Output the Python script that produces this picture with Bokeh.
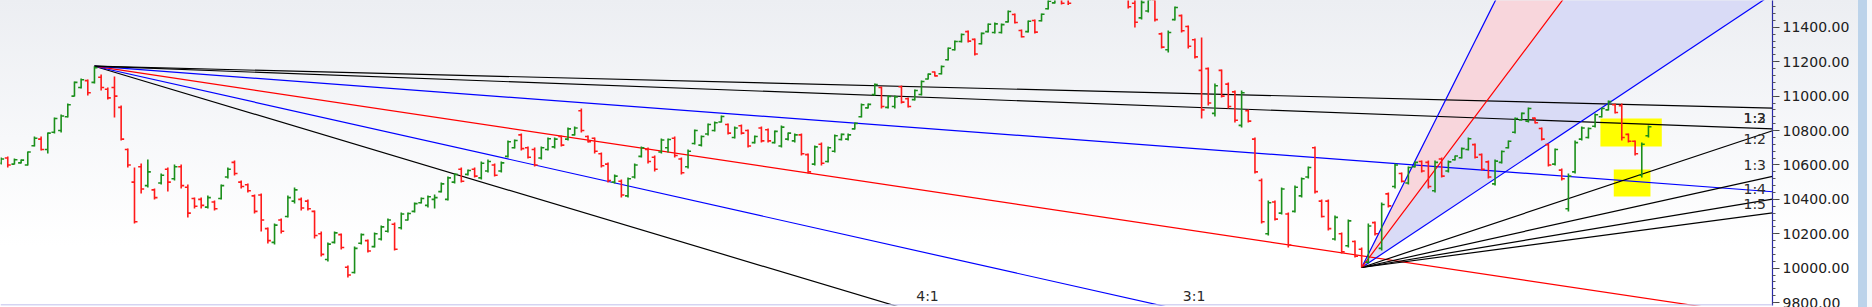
from bokeh.plotting import figure
from bokeh.models import (Range1d, LinearAxis, SingleIntervalTicker, NumeralTickFormatter,
                          Label, Span, ColumnDataSource)
from bokeh.embed import file_html
from bokeh.resources import INLINE

# ---- daily OHLC prices (bar index = trading day) ----
high = [10643, 10649, 10637, 10632, 10678, 10765, 10765, 10789, 10876, 10893, 10957, 11085, 11103, 11097, 11174,
        11126, 11050, 11114, 10946, 10696, 10585, 10608, 10632, 10463, 10550, 10585, 10603, 10603, 10486, 10411,
        10411, 10422, 10393, 10486, 10585, 10626, 10510, 10492, 10428, 10434, 10236, 10260, 10289, 10422, 10469,
        10411, 10399, 10335, 10213, 10149, 10213, 10201, 10015, 10126, 10201, 10166, 10207, 10248, 10289, 10265,
        10323, 10323, 10382, 10411, 10422, 10428, 10498, 10533, 10550, 10585, 10573, 10585, 10620, 10632, 10608,
        10620, 10742, 10748, 10783, 10707, 10701, 10707, 10760, 10760, 10771, 10818, 10823, 10928, 10771, 10760,
        10672, 10614, 10544, 10515, 10527, 10608, 10707, 10701, 10655, 10754, 10754, 10765, 10643, 10690, 10806,
        10771, 10841, 10853, 10887, 10841, 10823, 10835, 10806, 10771, 10823, 10812, 10800, 10829, 10789, 10783,
        10783, 10666, 10713, 10730, 10707, 10777, 10783, 10783, 10847, 10957, 10957, 11073, 11056, 11004, 11004,
        11062, 10992, 11039, 11091, 11132, 11143, 11178, 11283, 11324, 11364, 11382, 11335, 11370, 11422, 11428,
        11422, 11498, 11480, 11387, 11440, 11446, 11480, 11560, 11580, 11585, 11590, 11620, 11660, 11670, 11690,
        11720, 11710, 11670, 11630, 11590, 11565, 11570, 11575, 11580, 11370, 11382, 11521, 11475, 11411, 11335,
        11341, 11166, 11073, 11155, 11079, 11033, 11033, 10922, 10760, 10521, 10393, 10393, 10469, 10323, 10481,
        10527, 10591, 10707, 10399, 10399, 10306, 10207, 10283, 10161, 10120, 10260, 10271, 10382, 10440, 10608,
        10556, 10591, 10620, 10626, 10626, 10626, 10643, 10626, 10655, 10701, 10760, 10725, 10666, 10626, 10632,
        10684, 10742, 10876, 10905, 10934, 10876, 10818, 10725, 10696, 10579, 10550, 10742, 10823, 10818, 10899,
        10934, 10975, 10957, 10957, 10783, 10742, 10730, 10829]
low = [10603, 10585, 10603, 10608, 10597, 10707, 10684, 10666, 10783, 10789, 10876, 10998, 11044, 11004, 11073,
       11033, 10980, 10876, 10742, 10585, 10260, 10434, 10469, 10399, 10486, 10446, 10510, 10463, 10294, 10347,
       10347, 10347, 10335, 10399, 10521, 10539, 10463, 10440, 10318, 10213, 10143, 10137, 10201, 10294, 10376,
       10335, 10335, 10172, 10068, 10039, 10143, 10108, 9946, 9969, 10137, 10091, 10120, 10161, 10207, 10103,
       10225, 10277, 10323, 10376, 10353, 10347, 10440, 10393, 10492, 10498, 10539, 10527, 10515, 10556, 10533,
       10556, 10643, 10696, 10684, 10637, 10591, 10632, 10684, 10696, 10707, 10742, 10771, 10789, 10730, 10666,
       10585, 10498, 10492, 10411, 10411, 10521, 10643, 10608, 10562, 10666, 10672, 10643, 10544, 10579, 10719,
       10707, 10771, 10794, 10847, 10777, 10754, 10777, 10701, 10725, 10730, 10730, 10725, 10701, 10742, 10730,
       10655, 10550, 10597, 10597, 10614, 10672, 10742, 10742, 10806, 10876, 10928, 11004, 10928, 10928, 10928,
       10957, 10934, 10975, 11004, 11097, 11114, 11126, 11207, 11265, 11312, 11312, 11236, 11300, 11370, 11364,
       11364, 11428, 11422, 11341, 11370, 11364, 11434, 11504, 11539, 11533, 11530, 11560, 11590, 11610, 11620,
       11650, 11640, 11590, 11565, 11509, 11399, 11446, 11486, 11434, 11277, 11254, 11440, 11370, 11277, 11219,
       10870, 10946, 10882, 10992, 10928, 10847, 10818, 10847, 10550, 10260, 10190, 10277, 10312, 10120, 10323,
       10411, 10521, 10434, 10294, 10219, 10161, 10085, 10120, 10062, 10004, 10027, 10190, 10103, 10353, 10463,
       10498, 10486, 10585, 10556, 10463, 10440, 10527, 10556, 10626, 10637, 10684, 10637, 10568, 10521, 10481,
       10608, 10696, 10783, 10858, 10847, 10841, 10742, 10591, 10597, 10510, 10329, 10550, 10742, 10754, 10818,
       10876, 10916, 10899, 10742, 10730, 10655, 10527, 10760]
open_ = [10610, 10640, 10605, 10612, 10600, 10712, 10750, 10690, 10790, 10800, 10880, 11000, 11050, 11090, 11080,
         11110, 11040, 11050, 10935, 10690, 10500, 10590, 10480, 10455, 10495, 10575, 10520, 10590, 10470, 10405,
         10400, 10355, 10385, 10405, 10530, 10615, 10500, 10485, 10420, 10425, 10230, 10150, 10280, 10300, 10390,
         10400, 10390, 10330, 10200, 10050, 10150, 10195, 10005, 9975, 10145, 10160, 10125, 10170, 10215, 10255,
         10235, 10280, 10330, 10380, 10365, 10400, 10445, 10400, 10500, 10575, 10545, 10575, 10525, 10565, 10600,
         10565, 10650, 10700, 10775, 10700, 10690, 10640, 10690, 10705, 10765, 10750, 10775, 10915, 10765, 10755,
         10665, 10605, 10500, 10505, 10420, 10530, 10650, 10690, 10645, 10675, 10700, 10755, 10635, 10590, 10725,
         10715, 10780, 10800, 10850, 10835, 10760, 10828, 10800, 10730, 10815, 10805, 10730, 10710, 10750, 10740,
         10775, 10660, 10605, 10720, 10620, 10680, 10748, 10750, 10810, 10880, 10932, 11010, 11050, 10935, 10940,
         11055, 10985, 10980, 11010, 11100, 11140, 11130, 11212, 11270, 11318, 11375, 11330, 11305, 11375, 11370,
         11370, 11432, 11475, 11382, 11375, 11440, 11438, 11508, 11542, 11578, 11580, 11565, 11600, 11660, 11625,
         11660, 11700, 11660, 11620, 11580, 11540, 11455, 11495, 11560, 11362, 11270, 11445, 11468, 11405, 11328,
         11150, 11160, 10900, 11150, 11070, 11025, 10830, 10915, 10750, 10510, 10200, 10385, 10320, 10315, 10330,
         10420, 10530, 10700, 10390, 10390, 10170, 10200, 10130, 10155, 10110, 10035, 10265, 10115, 10432, 10475,
         10550, 10495, 10590, 10620, 10615, 10450, 10635, 10565, 10630, 10642, 10690, 10718, 10660, 10618, 10490,
         10615, 10700, 10790, 10862, 10855, 10872, 10812, 10718, 10605, 10570, 10345, 10560, 10750, 10760, 10825,
         10880, 10920, 10950, 10945, 10778, 10738, 10540, 10770]
close = [10635, 10600, 10630, 10628, 10675, 10755, 10690, 10785, 10870, 10885, 10950, 11080, 11095, 11020, 11165,
         11050, 10990, 11000, 10750, 10600, 10270, 10460, 10560, 10410, 10540, 10500, 10590, 10480, 10320, 10360,
         10365, 10410, 10345, 10480, 10575, 10550, 10475, 10450, 10330, 10280, 10160, 10250, 10215, 10410, 10455,
         10350, 10345, 10190, 10080, 10140, 10205, 10120, 9960, 10115, 10195, 10100, 10200, 10240, 10280, 10110,
         10315, 10318, 10375, 10405, 10415, 10410, 10490, 10525, 10545, 10505, 10568, 10535, 10610, 10620, 10540,
         10612, 10735, 10742, 10695, 10645, 10600, 10700, 10752, 10750, 10715, 10810, 10815, 10800, 10735, 10680,
         10595, 10510, 10535, 10425, 10520, 10600, 10700, 10620, 10575, 10745, 10748, 10655, 10555, 10680, 10800,
         10765, 10835, 10845, 10882, 10785, 10815, 10785, 10710, 10765, 10740, 10740, 10795, 10820, 10785, 10775,
         10665, 10560, 10705, 10610, 10700, 10770, 10778, 10775, 10842, 10950, 10952, 11068, 10940, 10998, 10995,
         10965, 10940, 11033, 11085, 11128, 11118, 11172, 11278, 11318, 11358, 11320, 11245, 11365, 11418, 11420,
         11416, 11492, 11428, 11345, 11435, 11372, 11476, 11552, 11572, 11540, 11540, 11612, 11650, 11620, 11680,
         11710, 11650, 11600, 11575, 11520, 11430, 11545, 11560, 11445, 11285, 11370, 11515, 11380, 11290, 11228,
         10920, 10960, 11060, 11000, 10940, 10860, 11020, 10855, 10560, 10270, 10380, 10285, 10460, 10135, 10470,
         10520, 10585, 10445, 10300, 10230, 10295, 10095, 10275, 10070, 10015, 10245, 10200, 10370, 10362, 10600,
         10505, 10585, 10615, 10565, 10475, 10615, 10535, 10618, 10652, 10695, 10752, 10645, 10575, 10530, 10622,
         10678, 10738, 10870, 10900, 10928, 10845, 10750, 10600, 10690, 10520, 10535, 10730, 10815, 10812, 10892,
         10928, 10968, 10905, 10760, 10738, 10665, 10720, 10822]

# ---- Gann fan definitions ----
HIGH_BAR = 14            # swing high the falling fan starts from
LOW_BAR = 204            # swing low the rising fan starts from
FALL_UNIT = 2.9          # points per bar of the 1x1 line, falling fan
RISE_UNIT = 25.8         # points per bar of the 1x1 line, rising fan
fall_ratios = ["4:1", "3:1", "2:1", "1:1", "1:2", "1:3"]
fall_colors = ["#000000", "#0000ff", "#ff0000", "#0000ff", "#000000", "#000000"]
rise_ratios = ["3:1", "2:1", "1:1", "1:2", "1:3", "1:4", "1:5"]
rise_colors = ["#0000ff", "#ff0000", "#0000ff", "#000000", "#000000", "#000000", "#000000"]

# highlighted zones: (first bar, last bar, low price, high price)
highlights = [(239.8, 249.0, 10707, 10870), (241.8, 247.3, 10417, 10574)]

X_LO, X_HI = -0.09, 265.6
Y_LO, Y_HI = 9783, 11556


def ratio_value(r):
    a, b = r.split(":")
    return float(a) / float(b)


p = figure(width=1872, height=307, output_backend="svg", toolbar_location=None,
           x_range=Range1d(X_LO, X_HI), y_range=Range1d(Y_LO, Y_HI),
           x_axis_location=None, y_axis_location=None,
           min_border_left=0, min_border_top=0, min_border_bottom=2, min_border_right=100)
p.xgrid.visible = False
p.ygrid.visible = False
p.outline_line_color = None
p.background_fill_alpha = 0
p.border_fill_alpha = 0
p.styles = {"background": "linear-gradient(to right, rgba(0,0,0,0) 1858px, #bcd3ea 1858px, "
                          "#bcd3ea 1867px, #f6f8fb 1867px), "
                          "linear-gradient(to bottom, #eceef2 0%, #f7f8fa 45%, #ffffff 80%)"}

# rising fan shaded sectors
ax2, ay2 = LOW_BAR, low[LOW_BAR]
rise_end = {r: ay2 + RISE_UNIT * ratio_value(r) * (X_HI - ax2) for r in rise_ratios}
p.patch([ax2, X_HI, X_HI], [ay2, rise_end["3:1"], rise_end["2:1"]],
        fill_color="#f8d6dc", line_color=None)
p.patch([ax2, X_HI, X_HI], [ay2, rise_end["2:1"], rise_end["1:1"]],
        fill_color="#d9dbf6", line_color=None)

# highlighted zones
for x0, x1, y0, y1 in highlights:
    p.quad(left=x0, right=x1, bottom=y0, top=y1, fill_color="#ffff00", line_color=None)

# falling fan from the swing high
ax1, ay1 = HIGH_BAR, high[HIGH_BAR]
fall_end = {}
for r, c in zip(fall_ratios, fall_colors):
    slope = -FALL_UNIT * ratio_value(r)
    fall_end[r] = ay1 + slope * (X_HI - ax1)
    p.segment(x0=ax1, y0=ay1, x1=X_HI, y1=fall_end[r], line_color=c, line_width=1.2)

# rising fan from the swing low
for r, c in zip(rise_ratios, rise_colors):
    p.segment(x0=ax2, y0=ay2, x1=X_HI, y1=rise_end[r], line_color=c, line_width=1.2)

# OHLC bars
n = len(close)
xs = list(range(n))
colors = ["#1b8f1b" if c >= o else "#ff1a1a" for o, c in zip(open_, close)]
src = ColumnDataSource(dict(x=xs, xl=[x - 0.45 for x in xs], xr=[x + 0.45 for x in xs],
                            h=high, l=low, o=open_, c=close, col=colors))
p.segment(x0="x", y0="l", x1="x", y1="h", line_color="col", line_width=1.6, source=src)
p.segment(x0="xl", y0="o", x1="x", y1="o", line_color="col", line_width=1.6, source=src)
p.segment(x0="x", y0="c", x1="xr", y1="c", line_color="col", line_width=1.6, source=src)

# ratio labels
label_style = dict(text_font="DejaVu Sans", text_font_size="14px", text_color="#2a2a2a",
                   text_baseline="middle", text_align="left")
for r in ["4:1", "3:1"]:
    slope = -FALL_UNIT * ratio_value(r)
    x_exit = ax1 + (Y_LO - ay1) / slope
    p.add_layout(Label(x=x_exit, y=Y_LO, x_offset=22, y_offset=10, text=r, **label_style))

edge_labels = [("1:3", fall_end["1:3"], -10), ("1:2", fall_end["1:2"], 11),
               ("1:2", rise_end["1:2"], -8), ("1:3", rise_end["1:3"], 11),
               ("1:4", rise_end["1:4"], 10), ("1:5", rise_end["1:5"], 9)]
for text, yv, off in edge_labels:
    p.add_layout(Label(x=X_HI, y=yv, x_offset=-29, y_offset=off, text=text, **label_style))

# bottom border line
p.add_layout(Span(location=Y_LO + 3, dimension="width", line_color="#c6c6ee", line_width=1.5))

# price axis
axis = LinearAxis(ticker=SingleIntervalTicker(interval=200, num_minor_ticks=5),
                  formatter=NumeralTickFormatter(format="0.00"))
axis.axis_line_color = "#2a2aa8"
axis.axis_line_width = 1.2
axis.major_tick_line_color = "#444444"
axis.minor_tick_line_color = "#555555"
axis.major_tick_out = 7
axis.major_tick_in = 0
axis.minor_tick_out = 3
axis.minor_tick_in = 0
axis.major_label_standoff = 3
axis.major_label_text_font = "DejaVu Sans"
axis.major_label_text_font_size = "14px"
axis.major_label_text_color = "#202020"
p.add_layout(axis, "right")

open("out.html", "w").write(file_html(p, INLINE))
